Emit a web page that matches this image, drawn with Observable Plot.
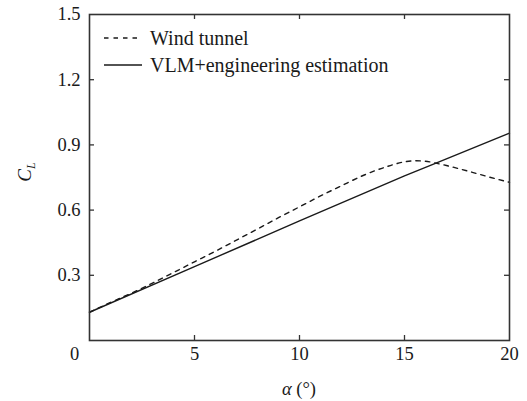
<!DOCTYPE html>
<html><head><meta charset="utf-8">
<script src="https://cdn.jsdelivr.net/npm/d3@7"></script>
<script src="https://cdn.jsdelivr.net/npm/@observablehq/plot@0.6"></script>
<style>body{margin:0;background:#fff}svg{display:block}</style>
</head><body><div id="chart"></div>
<script>
// Data
const windAlpha = [0, 1, 2, 3, 4, 5, 6, 7, 8, 9, 10, 11, 12, 13, 14, 15, 15.5, 16, 16.5, 17, 18, 19, 20];
const windCL    = [0.13, 0.175, 0.218, 0.264, 0.313, 0.362, 0.411, 0.462, 0.513, 0.565, 0.615, 0.665, 0.712, 0.758, 0.795, 0.822, 0.827, 0.825, 0.816, 0.805, 0.78, 0.753, 0.728];
const vlmAlpha  = [0, 5, 10, 15, 16.5, 20];
const vlmCL     = [0.13, 0.34, 0.55, 0.757, 0.816, 0.954];
const xTicks = [0, 5, 10, 15, 20];
const xTickLabels = ["0", "5", "10", "15", "20"];
const yTicks = [0, 0.3, 0.6, 0.9, 1.2, 1.5];
const yTickLabels = ["0", "0.3", "0.6", "0.9", "1.2", "1.5"];
const seriesNames = ["Wind tunnel", "VLM+engineering estimation"];
const xLabel = ["α", " (°)"];
const yLabel = ["C", "L"];

const wind = windAlpha.map((a, i) => ({alpha: a, cl: windCL[i]}));
const vlm = vlmAlpha.map((a, i) => ({alpha: a, cl: vlmCL[i]}));
const xT = xTicks.map((v, i) => ({v, label: xTickLabels[i]}));
const yT = yTicks.map((v, i) => ({v, label: yTickLabels[i]}));

const W = 527, H = 401, mL = 89, mR = 18, mT = 14, mB = 61;
const innerW = W - mL - mR, innerH = H - mT - mB, tk = 5;
const font = "'Liberation Serif', 'Times New Roman', serif";
const ink = "#1a1a1a";

const plot = Plot.plot({
  width: W, height: H,
  marginLeft: mL, marginRight: mR, marginTop: mT, marginBottom: mB,
  style: {fontFamily: font, fontSize: "18.5px", color: ink, background: "#fff"},
  x: {domain: [0, 20], axis: null},
  y: {domain: [0, 1.5], axis: null},
  marks: [
    Plot.line(wind, {x: "alpha", y: "cl", stroke: ink, strokeWidth: 1.4, strokeDasharray: "4.5,5", curve: "monotone-x"}),
    Plot.line(vlm, {x: "alpha", y: "cl", stroke: ink, strokeWidth: 1.4}),
    // inward ticks on all four sides
    Plot.tickX(xT.slice(1, -1), {x: "v", insetTop: innerH - tk, stroke: "#333", strokeWidth: 1.3}),
    Plot.tickX(xT.slice(1, -1), {x: "v", insetBottom: innerH - tk, stroke: "#333", strokeWidth: 1.3}),
    Plot.tickY(yT.slice(1, -1), {y: "v", insetRight: innerW - tk, stroke: "#333", strokeWidth: 1.3}),
    Plot.tickY(yT.slice(1, -1), {y: "v", insetLeft: innerW - tk, stroke: "#333", strokeWidth: 1.3}),
    Plot.frame({stroke: "#333", strokeWidth: 1.6}),
    // tick labels
    Plot.text(xT.slice(1), {x: "v", text: "label", frameAnchor: "bottom", dy: 14, lineAnchor: "middle", fill: ink}),
    Plot.text(xT.slice(0, 1), {x: "v", text: "label", frameAnchor: "bottom", dy: 14, dx: -15, lineAnchor: "middle", fill: ink}),
    Plot.text(yT.slice(1), {y: "v", text: "label", frameAnchor: "left", dx: -9, textAnchor: "end", lineAnchor: "middle", fill: ink})
  ]
});

const svg = d3.select(plot);
// axis titles
const xt = svg.append("text")
  .attr("x", mL + innerW / 2).attr("y", 395)
  .attr("text-anchor", "middle").attr("font-family", font).attr("font-size", 18.5).attr("fill", ink);
xt.append("tspan").attr("font-style", "italic").text(xLabel[0]);
xt.append("tspan").text(xLabel[1]);

const yt = svg.append("text")
  .attr("transform", `translate(31,${mT + innerH / 2 - 5}) rotate(-90)`)
  .attr("text-anchor", "middle").attr("font-family", font).attr("font-size", 19).attr("fill", ink)
  .attr("font-style", "italic");
yt.append("tspan").text(yLabel[0]);
yt.append("tspan").attr("font-size", 12).attr("dy", 4).text(yLabel[1]);

// legend
const lg = svg.append("g").attr("font-family", font).attr("font-size", 20).attr("fill", ink)
  .attr("text-anchor", "start");
const rows = [{y: 38, dash: "4.5,5"}, {y: 65, dash: null}];
rows.forEach((r, i) => {
  lg.append("line").attr("x1", 104).attr("x2", 142).attr("y1", r.y).attr("y2", r.y)
    .attr("stroke", ink).attr("stroke-width", 1.4).attr("stroke-dasharray", r.dash);
  lg.append("text").attr("x", 150).attr("y", r.y).attr("dy", "0.33em")
    .attr("text-anchor", "start").text(seriesNames[i]);
});

document.getElementById("chart").appendChild(plot);
</script>
</body></html>
